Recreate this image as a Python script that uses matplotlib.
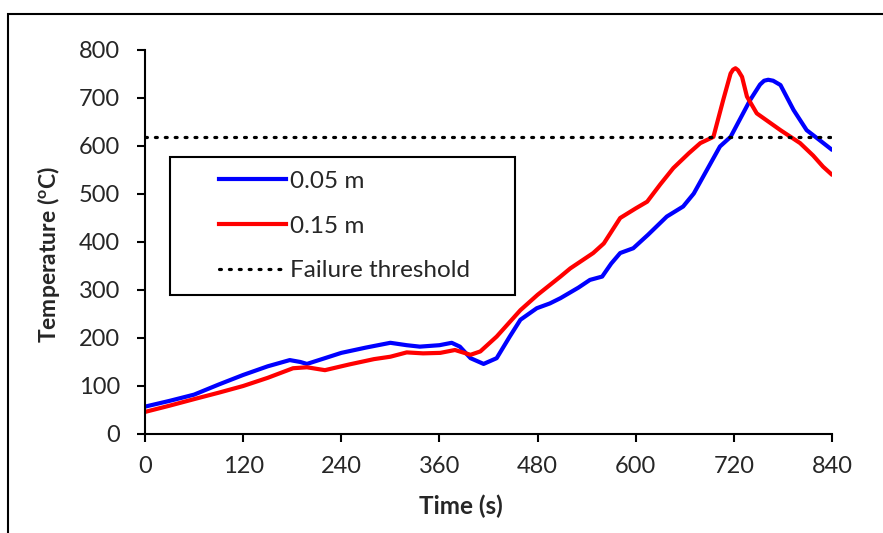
import matplotlib
matplotlib.use("Agg")
import matplotlib.pyplot as plt
from matplotlib.patches import Rectangle
from matplotlib.lines import Line2D

# ---- data ----
t_blue = [0, 30, 60, 90, 120, 150, 177, 190, 198, 220, 240, 270, 300, 320, 336, 360,
          375, 385, 398, 414, 430, 446, 459, 479, 495, 508, 530, 544, 559, 570, 581,
          597, 615, 638, 658, 671, 687, 703, 716, 740, 752, 757, 762, 768, 777, 793,
          809, 825, 840]
T_blue = [57, 69, 82, 103, 123, 141, 154, 150, 146, 158, 169, 180, 190, 185, 182, 185,
          190, 182, 158, 146, 158, 203, 238, 262, 272, 283, 305, 321, 328, 355, 377,
          387, 415, 453, 474, 501, 550, 599, 619, 696, 728, 736, 738, 736, 727, 675,
          633, 612, 592]

t_red = [0, 30, 63, 90, 120, 150, 181, 198, 220, 250, 280, 300, 320, 340, 361, 379,
         398, 410, 430, 459, 480, 508, 520, 548, 561, 581, 600, 614, 630, 646, 665,
         679, 695, 707, 716, 719, 722, 725, 730, 736, 748, 777, 801, 817, 829, 840]
T_red = [46, 59, 74, 86, 100, 117, 137, 139, 133, 145, 156, 161, 170, 168, 169, 175,
         165, 172, 203, 258, 290, 328, 345, 377, 397, 450, 470, 484, 520, 554, 585,
         606, 619, 696, 751, 759, 762, 758, 744, 703, 668, 633, 606, 580, 557, 540]

threshold = 618
labels = ["0.05 m", "0.15 m", "Failure threshold"]
xticks = [0, 120, 240, 360, 480, 600, 720, 840]
yticks = [0, 100, 200, 300, 400, 500, 600, 700, 800]

# ---- style ----
plt.rcParams['font.family'] = ['Lato', 'DejaVu Sans']
plt.rcParams['mathtext.fontset'] = 'custom'
plt.rcParams['mathtext.rm'] = 'Lato'
plt.rcParams['mathtext.bf'] = 'Lato:bold'
txt = '#262626'

W, H = 883, 533
fig = plt.figure(figsize=(W / 100, H / 100), dpi=100)
ax = fig.add_axes([145 / W, 1 - 434 / H, (832 - 145) / W, (434 - 50) / H])

ax.plot(t_blue, T_blue, color='#0000FF', lw=3, solid_capstyle='round',
        solid_joinstyle='round', label=labels[0])
ax.plot(t_red, T_red, color='#FF0000', lw=3, solid_capstyle='round',
        solid_joinstyle='round', label=labels[1])
ax.axhline(threshold, color='black', lw=2.3, linestyle=(0, (0.6, 2.5)),
           dash_capstyle='round', label=labels[2])

ax.set_xlim(0, 840)
ax.set_ylim(0, 800)
ax.set_xticks(xticks)
ax.set_yticks(yticks)
for s in ['top', 'right']:
    ax.spines[s].set_visible(False)
for s in ['left', 'bottom']:
    ax.spines[s].set_linewidth(1.5)
    ax.spines[s].set_color('black')
ax.tick_params(axis='both', direction='out', length=6, width=1.5, color='black',
               labelsize=17, labelcolor=txt)
ax.tick_params(axis='y', pad=12)
ax.tick_params(axis='x', pad=10)

ax.set_xlabel('Time (s)', fontsize=17.5, fontweight='bold', color=txt)
ax.set_ylabel(r'Temperature ($\mathbf{^{o}}$C)', fontsize=16.5, fontweight='bold', color=txt)
ax.xaxis.set_label_coords((461 - 145) / 687, (434 - 495) / 384)
ax.yaxis.set_label_coords((62 - 145) / 687, (434 - 254) / 384)

# legend
handles = [Line2D([], [], color='#0000FF', lw=3),
           Line2D([], [], color='#FF0000', lw=3),
           Line2D([], [], color='black', lw=2.3, linestyle=(0, (0.6, 2.5)), dash_capstyle='round')]
leg = ax.legend(handles, labels, loc='center left',
                bbox_to_anchor=((219 - 145) / 687, (434 - 226) / 384),
                frameon=False, fontsize=17.5, handlelength=2.75, handletextpad=0.18,
                labelspacing=0.97, borderpad=0, borderaxespad=0)
for t in leg.get_texts():
    t.set_color(txt)
ax.add_patch(Rectangle(((170 - 145) / 687, (434 - 295) / 384), 345 / 687, 138 / 384,
                       transform=ax.transAxes, fill=False, ec='black', lw=1.5, zorder=5))

# figure border
fig.patches.append(Rectangle((8 / W, -0.05), 1.1, 1 - 14 / H + 0.05,
                             transform=fig.transFigure, fill=False, ec='black', lw=1.5))

fig.savefig('out.png', dpi=100)
